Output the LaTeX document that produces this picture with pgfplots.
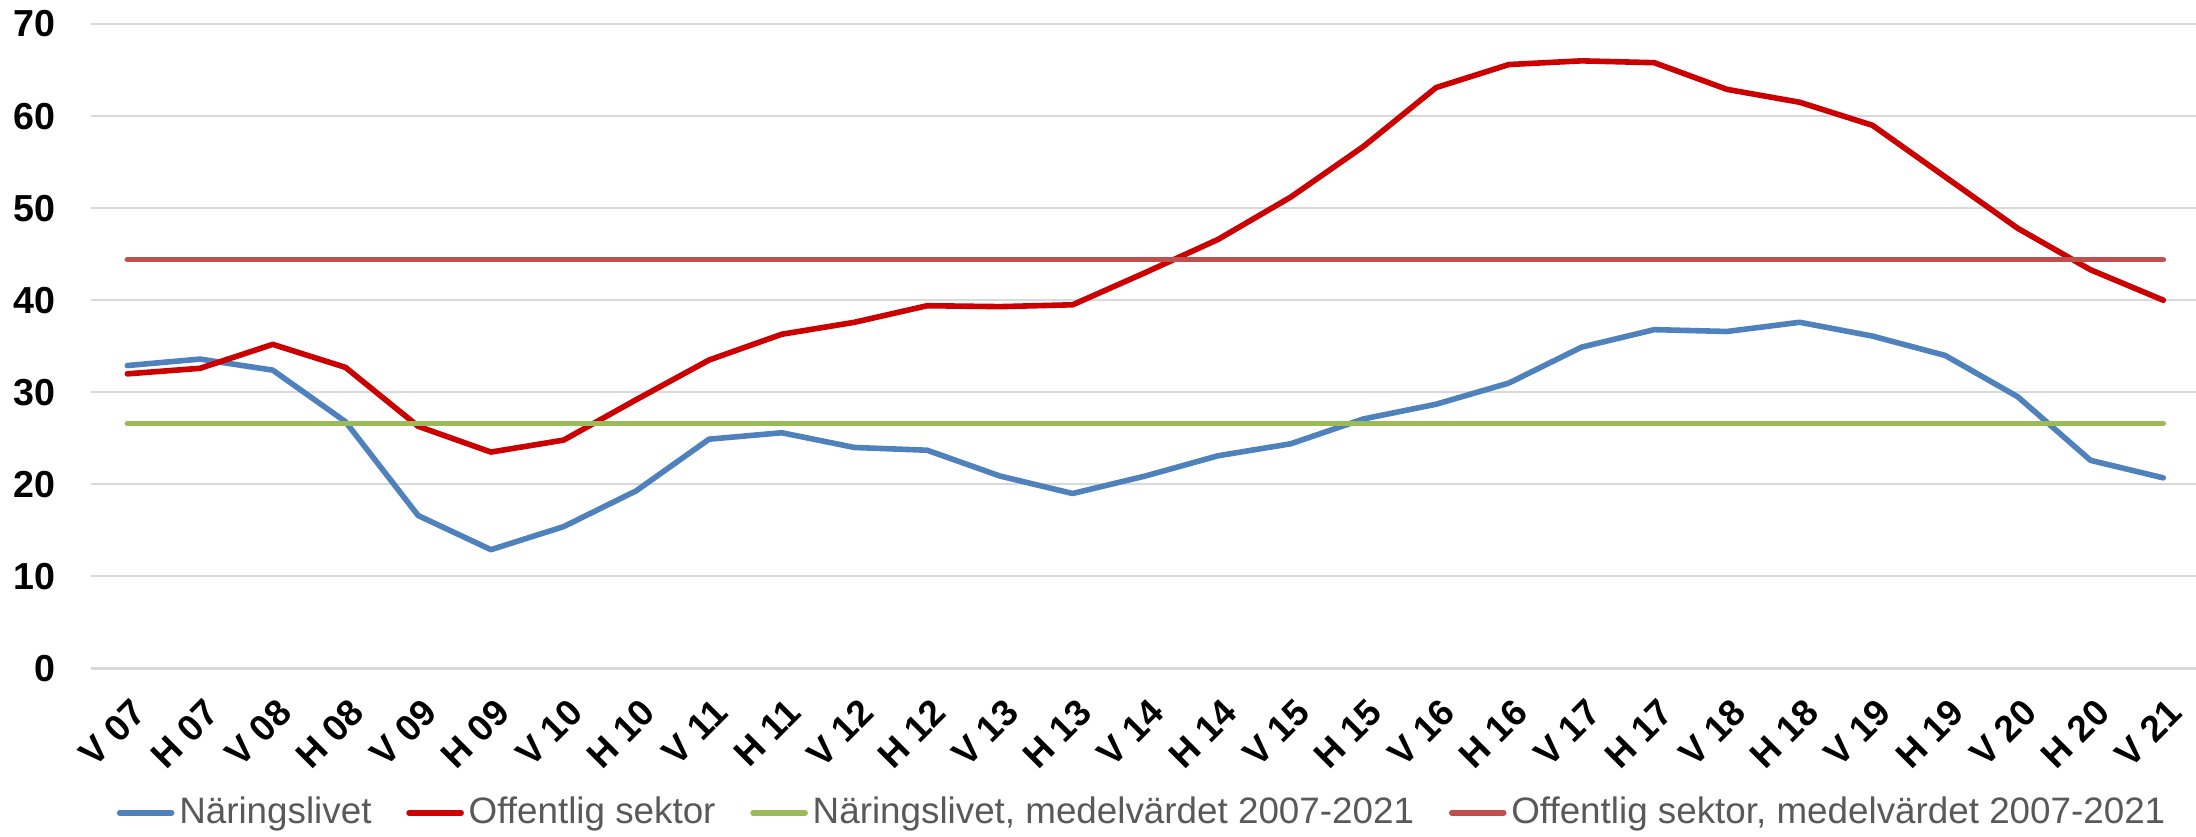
\documentclass[border=0pt]{standalone}
\usepackage{fontspec}
\setmainfont{Liberation Sans}
\usepackage{pgfplots}
\usepackage{pgfplotstable}
\pgfplotsset{compat=1.18}
\definecolor{cblue}{HTML}{4F81BD}
\definecolor{cred}{HTML}{CC0000}
\definecolor{cgreen}{HTML}{9BBB59}
\definecolor{cavgred}{HTML}{C0504D}
\definecolor{cgrid}{HTML}{D9D9D9}
\definecolor{ctext}{HTML}{595959}
\pgfplotstableread{
x  nar   off   navg   oavg
0  32.9  32.0  26.62  44.41
1  33.6  32.6  26.62  44.41
2  32.4  35.2  26.62  44.41
3  26.8  32.7  26.62  44.41
4  16.6  26.3  26.62  44.41
5  12.9  23.5  26.62  44.41
6  15.4  24.8  26.62  44.41
7  19.3  29.2  26.62  44.41
8  24.9  33.5  26.62  44.41
9  25.6  36.3  26.62  44.41
10 24.0  37.6  26.62  44.41
11 23.7  39.4  26.62  44.41
12 20.9  39.3  26.62  44.41
13 19.0  39.5  26.62  44.41
14 20.9  43.0  26.62  44.41
15 23.1  46.6  26.62  44.41
16 24.4  51.2  26.62  44.41
17 27.1  56.7  26.62  44.41
18 28.7  63.1  26.62  44.41
19 31.0  65.6  26.62  44.41
20 34.9  66.0  26.62  44.41
21 36.8  65.8  26.62  44.41
22 36.6  62.9  26.62  44.41
23 37.6  61.5  26.62  44.41
24 36.1  59.0  26.62  44.41
25 34.0  53.4  26.62  44.41
26 29.5  47.8  26.62  44.41
27 22.6  43.3  26.62  44.41
28 20.7  40.0  26.62  44.41
}\datatable
\begin{document}
\begin{tikzpicture}
\path[use as bounding box] (-22.75pt,-41.9pt) rectangle (526.25pt,167.1pt);
\begin{axis}[
  scale only axis,
  width=526.25pt, height=161.1pt,
  at={(0pt,0pt)}, anchor=south west,
  xmin=-0.5, xmax=28.45,
  ymin=0, ymax=70,
  ytick={0,10,...,70},
  xtick={0,...,28},
  xticklabels={V 07,H 07,V 08,H 08,V 09,H 09,V 10,H 10,V 11,H 11,V 12,H 12,V 13,H 13,V 14,H 14,V 15,H 15,V 16,H 16,V 17,H 17,V 18,H 18,V 19,H 19,V 20,H 20,V 21},
  major tick length=0pt,
  axis line style={draw=none},
  ymajorgrids,
  grid style={draw=cgrid, line width=0.55pt},
  /pgf/number format/assume math mode=true,
  yticklabel style={font=\fontsize{9.4}{11}\selectfont\bfseries, xshift=-5.3pt},
  xticklabel style={font=\fontsize{9.2}{11}\selectfont\bfseries, xshift=5.5pt, yshift=-7pt, rotate=45, anchor=east},
  legend columns=4,
  legend style={at={(0.5,-0.224)}, anchor=center, draw=none, fill=none,
    font=\fontsize{9.2}{11}\selectfont, text=ctext,
    nodes={inner xsep=1.2pt},
    /tikz/every even column/.append style={column sep=7.5pt}},
  legend image code/.code={\draw[#1] (0pt,0pt) -- (13pt,0pt);},
  every axis plot/.append style={line width=1.4pt, line cap=round, line join=round},
]
\addplot[cblue] table[x=x, y=nar] {\datatable};
\addlegendentry{Näringslivet}
\addplot[cred] table[x=x, y=off] {\datatable};
\addlegendentry{Offentlig sektor}
\addplot[cgreen] table[x=x, y=navg] {\datatable};
\addlegendentry{Näringslivet, medelvärdet 2007-2021}
\addplot[cavgred] table[x=x, y=oavg] {\datatable};
\addlegendentry{Offentlig sektor, medelvärdet 2007-2021}
\end{axis}
\end{tikzpicture}
\end{document}
